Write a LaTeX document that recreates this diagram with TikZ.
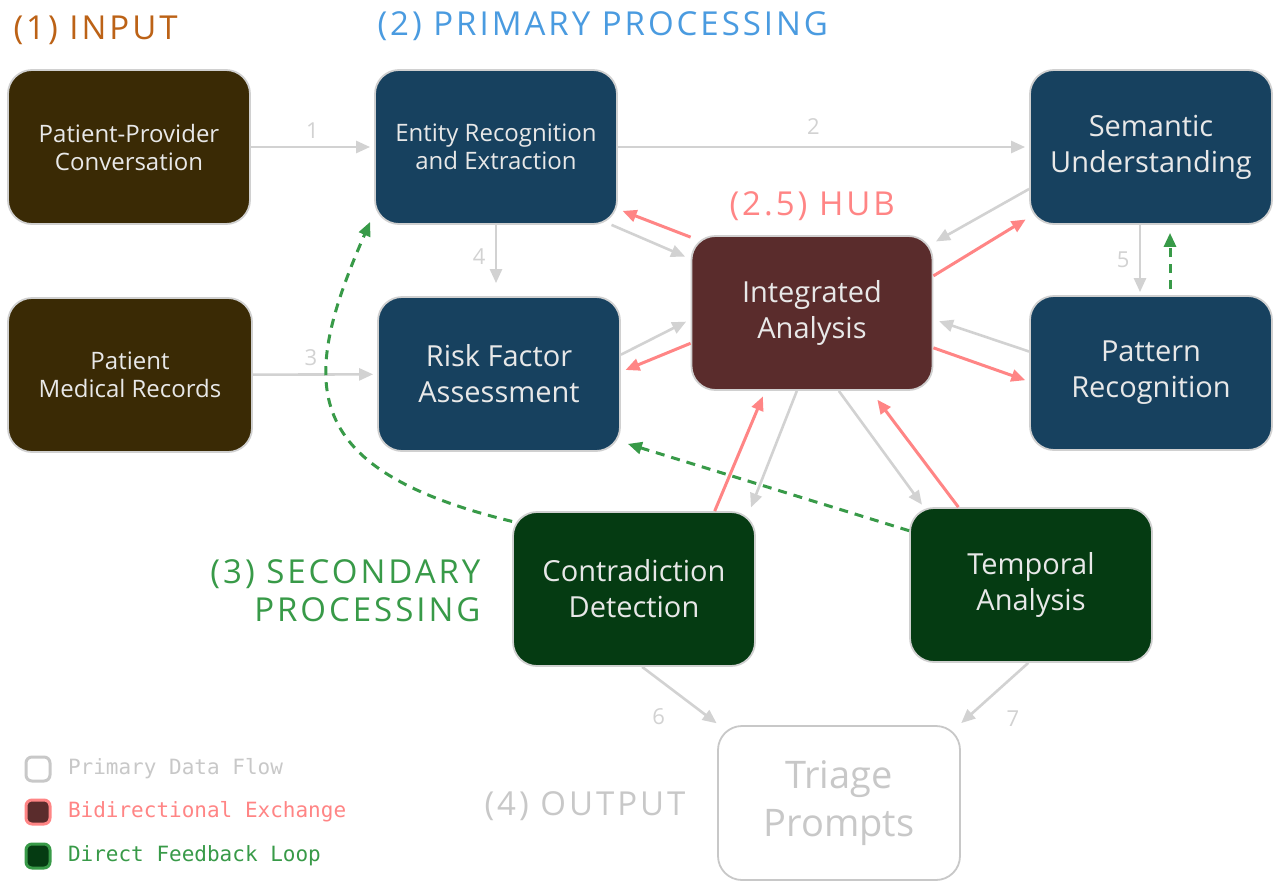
\documentclass[tikz,border=0pt]{standalone}
\usepackage{fontspec}
\setmainfont{Open Sans}
\setmonofont{DejaVu Sans Mono}
\newfontfamily\titlefont[LetterSpace=9]{Open Sans}
\usetikzlibrary{arrows.meta,positioning}

\definecolor{inputbrown}{HTML}{3A2A05}
\definecolor{primaryblue}{HTML}{17415F}
\definecolor{hubmaroon}{HTML}{5A2C2C}
\definecolor{secondgreen}{HTML}{053B12}
\definecolor{boxedge}{HTML}{D0D0D0}
\definecolor{boxtext}{HTML}{E8E8E8}
\definecolor{flowgray}{HTML}{D2D2D2}
\definecolor{exchangered}{HTML}{FF8585}
\definecolor{loopgreen}{HTML}{389A48}
\definecolor{inputorange}{HTML}{BC6216}
\definecolor{primarylight}{HTML}{4A9BE0}
\definecolor{outputgray}{HTML}{C8C8C8}

\tikzset{
  stage/.style={draw=boxedge, line width=1.8pt, rounded corners=24pt, minimum width=242pt,
    minimum height=154pt, align=center, text=boxtext, inner sep=0pt, font=\fontsize{24}{28}\selectfont},
  bigtext/.style={font=\fontsize{29}{36}\selectfont},
  flow/.style={draw=flowgray, line width=2.6pt, -{Triangle[length=14pt,width=12pt]}},
  exchange/.style={draw=exchangered, line width=3pt, -{Triangle[length=14pt,width=12pt]}},
  feedback/.style={draw=loopgreen, line width=3pt, dash pattern=on 9pt off 7pt, -{Triangle[length=14pt,width=12pt]}},
  phase/.style={anchor=west, font=\titlefont\fontsize{33}{38}\selectfont},
  flownum/.style={text=flowgray, font=\fontsize{22}{26}\selectfont},
  legendbox/.style={line width=3pt, rounded corners=6pt, minimum width=24pt, minimum height=24pt, inner sep=0pt},
  legendtext/.style={anchor=west, font=\ttfamily\fontsize{21}{24}\selectfont}
}

\begin{document}
\begin{tikzpicture}[x=1pt,y=-1pt]
\fill[white] (0,0) rectangle (1280,889);
\useasboundingbox (0,0) rectangle (1280,889);

\node[phase, text=inputorange] (inputtitle) at (10,30) {(1) INPUT};
\node[phase, text=primarylight] (primarytitle) at (374,26) {(2) PRIMARY PROCESSING};
\node[phase, text=exchangered] (hubtitle) at (726,206) {(2.5) HUB};
\node[phase, anchor=east, align=right, text=loopgreen] (secondtitle) at (484,591) {(3) SECONDARY\\PROCESSING};
\node[phase, text=outputgray] (outputtitle) at (481,806) {(4) OUTPUT};

\node[stage, fill=inputbrown] (conversation) at (129,147) {Patient-Provider\\Conversation};
\node[stage, fill=inputbrown, minimum width=244pt] (records) at (130,375) {Patient\\Medical Records};
\node[stage, fill=primaryblue] (entity) at (496,147) {Entity Recognition\\and Extraction};
\node[stage, bigtext, fill=primaryblue] (semantic) at (1151,147) {Semantic\\Understanding};
\node[stage, bigtext, fill=primaryblue] (risk) at (499,374) {Risk Factor\\Assessment};
\node[stage, bigtext, fill=primaryblue] (pattern) at (1151,373) {Pattern\\Recognition};
\node[stage, bigtext, fill=hubmaroon, minimum width=241pt] (hub) at (812,313) {Integrated\\Analysis};
\node[stage, bigtext, fill=secondgreen] (contra) at (634,589) {Contradiction\\Detection};
\node[stage, bigtext, fill=secondgreen] (temporal) at (1031,585) {Temporal\\Analysis};
\node[stage, fill=white, draw=outputgray, text=outputgray, font=\fontsize{38}{48}\selectfont] (triage) at (839,803) {Triage\\Prompts};

\draw[flow, shorten >=4pt] (conversation) -- node[flownum, above=4pt] (num1) {1} (entity);
\draw[flow, shorten >=4pt] (entity) -- node[flownum, above=8pt, xshift=-10pt] (num2) {2} (semantic);
\draw[flow, shorten >=4pt] (records) -- node[flownum, above=4pt, xshift=-4pt] (num3) {3} (risk);
\draw[flow, shorten >=13pt] (entity.south) -- node[flownum, left=6pt, pos=0.45] (num4) {4} (entity.south |- risk.north);
\draw[flow, shorten >=3pt] ([xshift=-11pt]semantic.south) -- node[flownum, left=6pt] (num5) {5} ([xshift=-11pt]pattern.north);
\draw[feedback, shorten <=6pt, shorten >=8pt] ([xshift=19pt]pattern.north) -- ([xshift=19pt]semantic.south);

\draw[flow, shorten >=6pt] (entity.-34) -- (hub.156);
\draw[exchange, shorten >=5pt] (hub.148) -- (entity.-27);
\draw[flow, shorten >=3pt] (semantic.199) -- (hub.30);
\draw[exchange, shorten >=4pt] (hub.17) -- (semantic.210);
\draw[flow, shorten >=5pt] (risk.9) -- (hub.183);
\draw[exchange, shorten >=5pt] (hub.194) -- (risk.1);
\draw[flow, shorten >=6pt] (pattern.170) -- (hub.-3);
\draw[exchange, shorten >=4pt] (hub.-16) -- (pattern.184);
\draw[flow, shorten >=4pt] (hub.259) -- (contra.34);
\draw[exchange, shorten >=6pt] (contra.44) -- (hub.239);
\draw[flow, shorten >=3pt] (hub.-71) -- (temporal.144.5);
\draw[exchange, shorten >=11pt] (temporal.133) -- (hub.-53);

\draw[flow, shorten >=3pt] (contra.-84) -- node[flownum, pos=0.85, left=38pt] (num6) {6} (triage.147);
\draw[flow, shorten >=3pt] (temporal.-92) -- node[flownum, pos=0.9, right=36pt] (num7) {7} (triage.33);

\draw[feedback] (contra.151) .. controls (292,468) and (302,378) .. ([xshift=-4pt,yshift=3pt]entity.south west);
\draw[feedback] (temporal.156) -- ([xshift=7pt,yshift=8pt]risk.south east);

\node[legendbox, draw=outputgray, fill=white] (flowkey) at (38,769) {};
\node[legendbox, draw=exchangered, fill=hubmaroon] (exchangekey) at (38,812) {};
\node[legendbox, draw=loopgreen, fill=secondgreen] (loopkey) at (38,856) {};
\node[legendtext, text=outputgray, right=13pt of flowkey] (flowlabel) {Primary Data Flow};
\node[legendtext, text=exchangered, right=13pt of exchangekey] (exchangelabel) {Bidirectional Exchange};
\node[legendtext, text=loopgreen, right=13pt of loopkey] (looplabel) {Direct Feedback Loop};
\end{tikzpicture}
\end{document}
